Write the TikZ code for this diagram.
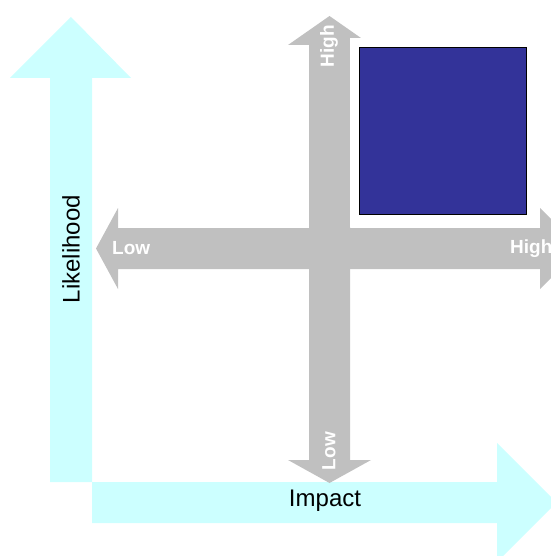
\documentclass[tikz,border=0pt]{standalone}
\usepackage{fontspec}
\setmainfont{Liberation Sans}
\definecolor{cyanarrow}{HTML}{CCFFFF}
\definecolor{grayarrow}{HTML}{C0C0C0}
\definecolor{bluebox}{HTML}{333399}
\begin{document}
\begin{tikzpicture}[x=1pt,y=-1pt,
  axislabel/.style={font=\fontsize{24}{28}\selectfont, text=black, inner sep=0pt},
  scalelabel/.style={font=\bfseries\fontsize{19}{22}\selectfont, text=white, inner sep=0pt}]
\useasboundingbox (0,0) rectangle (550,556);
% cyan vertical arrow (Likelihood)
\fill[cyanarrow] (50,482) -- (50,78) -- (10,78) -- (71,17) -- (131,78) -- (92,78) -- (92,482) -- cycle;
% cyan horizontal arrow (Impact)
\fill[cyanarrow] (92,482) -- (497,482) -- (497,443) -- (556.5,502.5) -- (497,562) -- (497,523) -- (92,523) -- cycle;
% gray vertical double arrow
\fill[grayarrow] (309,45) -- (288,45) -- (329.5,16) -- (371,45) -- (350,45) -- (350,460) -- (371,460) -- (329.5,483) -- (288,460) -- (309,460) -- cycle;
% gray horizontal double arrow
\fill[grayarrow] (118,228) -- (118,208) -- (96,248.5) -- (118,289) -- (118,269) -- (540,269) -- (540,289) -- (581,248.5) -- (540,208) -- (540,228) -- cycle;
% white backing and blue square
\fill[white] (350,38) rectangle (540,227);
\node[draw=black, fill=bluebox, minimum width=167pt, minimum height=167pt, inner sep=0pt, line width=0.8pt] (box) at (442.5,130.5) {};
% labels
\node[axislabel, rotate=90] (likelihood) at (71,249) {Likelihood};
\node[axislabel] (impact) at (325,501) {Impact};
\node[scalelabel, rotate=90] (vhigh) at (329,46) {High};
\node[scalelabel, rotate=90] (vlow) at (329,451) {Low};
\node[scalelabel, anchor=west] (hlow) at (112,248.5) {Low};
\node[scalelabel, anchor=west] (hhigh) at (510,248.5) {High};
\end{tikzpicture}
\end{document}
